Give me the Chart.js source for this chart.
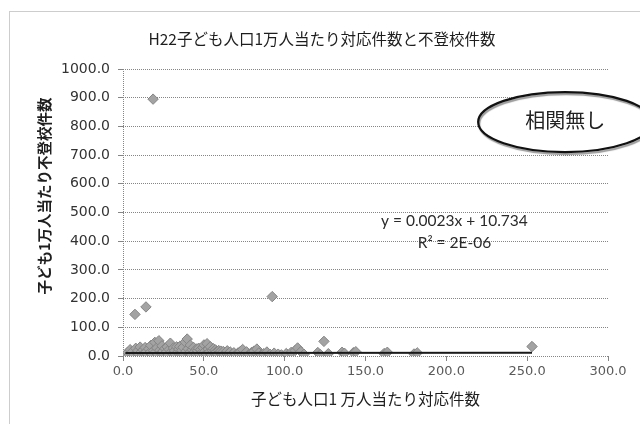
<!DOCTYPE html>
<html>
<head>
<meta charset="utf-8">
<script src="https://cdn.jsdelivr.net/npm/chart.js@4/dist/chart.umd.min.js"></script>
<style>
  html, body { margin: 0; padding: 0; background: #fff; }
  #wrap { width: 640px; height: 424px; }
</style>
</head>
<body>
<div id="wrap"><canvas id="c" width="640" height="424"></canvas></div>
<script>
// Labels
const chartTitle = 'H22子ども人口1万人当たり対応件数と不登校件数';
const xAxisTitle = '子ども人口1 万人当たり対応件数';
const yAxisTitle = '子ども1万人当たり不登校件数';
const noteText = '相関無し';

// Tick labels
const xTickLabels = ['0.0', '50.0', '100.0', '150.0', '200.0', '250.0', '300.0'];
const yTickLabels = ['0.0', '100.0', '200.0', '300.0', '400.0', '500.0', '600.0', '700.0', '800.0', '900.0', '1000.0'];

// 対応件数 (per 10,000 children)
const consultRate = [
  1.5, 2.8, 3.6, 4.4, 5.1, 5.9, 6.7, 7.4, 7.9, 8.6,
  9.3, 9.9, 10.6, 11.2, 11.9, 12.5, 13.1, 13.7, 14.2, 14.6,
  15.3, 15.9, 16.6, 17.2, 17.8, 18.6, 19.0, 19.7, 20.3, 20.9,
  21.5, 22.2, 22.8, 23.5, 24.1, 24.8, 25.4, 26.0, 26.7, 27.3,
  28.0, 28.6, 29.3, 29.9, 30.6, 31.2, 31.9, 32.5, 33.2, 33.8,
  34.5, 35.1, 35.8, 36.4, 37.1, 37.7, 38.4, 39.0, 39.7, 40.3,
  41.0, 41.6, 42.3, 42.9, 43.6, 44.2, 44.9, 45.5, 46.2, 46.8,
  47.5, 48.1, 48.8, 49.4, 50.1, 50.7, 51.4, 52.0, 52.7, 53.3,
  54.0, 54.6, 55.3, 55.9, 56.6, 57.2, 57.9, 58.5, 59.2, 59.8,
  60.5, 61.3, 62.0, 62.8, 63.6, 64.5, 65.4, 66.3, 67.5, 68.6,
  70.0, 71.2, 72.5, 74.0, 75.3, 76.4, 78.0, 79.5, 81.0, 82.8,
  84.0, 85.5, 87.0, 89.0, 91.0, 92.3, 93.5, 96.0, 98.0, 101.0,
  104.0, 106.5, 108.0, 110.0, 112.0, 120.5, 122.0, 124.3, 127.0, 135.5,
  137.0, 142.5, 144.0, 161.5, 163.5, 180.0, 182.0, 253.0
];

// 不登校件数 (per 10,000 children)
const truancyRate = [
  4.2, 12.5, 1.8, 22.0, 8.3, 15.6, 3.1, 145, 26.8, 10.4,
  18.9, 5.6, 31.0, 13.7, 2.4, 21.3, 9.1, 29.5, 171, 16.2,
  4.7, 24.8, 11.9, 36.6, 7.2, 895, 19.4, 47.5, 14.8, 28.1,
  3.9, 53.2, 20.6, 9.8, 35.4, 17.3, 6.1, 26.3, 12.8, 31.7,
  2.9, 22.4, 44.6, 15.1, 8.6, 27.9, 18.2, 4.5, 31.8, 13.4,
  24.1, 33.0, 9.7, 19.8, 30.6, 6.3, 48.7, 16.9, 59.1, 25.5,
  11.2, 37.9, 3.4, 21.7, 29.9, 14.3, 8.0, 24.6, 18.7, 27.1,
  5.2, 22.9, 12.1, 29.3, 38.6, 16.4, 7.5, 42.8, 24.0, 13.0,
  32.2, 4.1, 19.5, 25.4, 10.3, 21.3, 15.7, 6.8, 19.0, 12.6,
  17.0, 8.9, 15.6, 3.7, 12.0, 18.1, 9.4, 14.0, 6.5, 11.3,
  4.8, 10.8, 14.8, 22.6, 9.0, 14.5, 5.5, 12.0, 17.0, 24.2,
  10.6, 3.2, 8.1, 13.9, 5.9, 207, 10.0, 6.4, 4.0, 8.5,
  12.4, 19.0, 28.0, 15.5, 6.0, 12.0, 5.0, 51, 8.0, 13.0,
  9.5, 11.5, 15.0, 8.5, 13.0, 7.0, 11.0, 33.0
];

// Linear trend line as printed on the chart
const trendSlope = 0.0023;
const trendIntercept = 10.734;
const trendR2Label = '2E-06';

const points = consultRate.map((x, i) => ({ x: x, y: truancyRate[i] }));
const xMin = Math.min(...consultRate);
const xMax = Math.max(...consultRate);
const trendPoints = [
  { x: xMin, y: trendSlope * xMin + trendIntercept },
  { x: xMax, y: trendSlope * xMax + trendIntercept }
];

const GRID = '#858585';

const decor = {
  id: 'decor',
  beforeDraw(chart) {
    const ctx = chart.ctx;
    ctx.save();
    ctx.fillStyle = '#ffffff';
    ctx.fillRect(0, 0, chart.width, chart.height);
    // dotted chart frame
    ctx.strokeStyle = '#9a9a9a';
    ctx.lineWidth = 1;
    ctx.setLineDash([1, 1]);
    ctx.strokeRect(9.5, 11.5, 640, 430);
    ctx.restore();
  },
  afterDraw(chart) {
    const ctx = chart.ctx;
    const area = chart.chartArea;
    const xs = chart.scales.x, ys = chart.scales.y;
    ctx.save();
    ctx.fillStyle = '#1e1e1e';
    ctx.textAlign = 'center';
    ctx.textBaseline = 'middle';

    // chart title
    ctx.font = '15.5px "Noto Sans CJK JP"';
    ctx.fillText(chartTitle, 322, 39);

    // x axis title
    ctx.font = '15.5px "Noto Sans CJK JP"';
    ctx.fillText(xAxisTitle, (area.left + area.right) / 2, 399);

    // y axis title
    ctx.save();
    ctx.translate(44, 196);
    ctx.rotate(-Math.PI / 2);
    ctx.font = 'bold 14.5px "Noto Sans CJK JP"';
    ctx.fillText(yAxisTitle, 0, 0);
    ctx.restore();

    // trend equation
    ctx.fillStyle = '#2a2a2a';
    ctx.font = '15.5px Lato';
    const ex = xs.getPixelForValue(205);
    ctx.fillText('y = ' + trendSlope + 'x + ' + trendIntercept, ex, ys.getPixelForValue(470));
    ctx.fillText('R² = ' + trendR2Label, ex, ys.getPixelForValue(393));

    // callout ellipse
    const cx = xs.getPixelForValue(273.5), cy = ys.getPixelForValue(815);
    ctx.beginPath();
    ctx.ellipse(cx, cy, 87, 30, 0, 0, Math.PI * 2);
    ctx.fillStyle = '#ffffff';
    ctx.fill();
    ctx.shadowColor = 'rgba(0,0,0,0.4)';
    ctx.shadowOffsetX = 1;
    ctx.shadowOffsetY = 2;
    ctx.shadowBlur = 1;
    ctx.lineWidth = 2.2;
    ctx.strokeStyle = '#111';
    ctx.stroke();
    ctx.shadowColor = 'transparent';
    ctx.fillStyle = '#222';
    ctx.font = '20px "Noto Sans CJK JP"';
    ctx.fillText(noteText, cx, cy - 2);
    ctx.restore();
  }
};

new Chart(document.getElementById('c'), {
  data: {
    datasets: [
      {
        type: 'line',
        data: trendPoints,
        borderColor: '#1a1a1a',
        borderWidth: 2,
        pointRadius: 0,
        fill: false,
        order: 0
      },
      {
        type: 'scatter',
        data: points,
        pointStyle: 'rectRot',
        pointRadius: 5.2,
        backgroundColor: '#a3a3a3',
        borderColor: '#858585',
        borderWidth: 1,
        order: 1
      }
    ]
  },
  options: {
    responsive: false,
    animation: false,
    devicePixelRatio: 1,
    layout: { padding: { top: 69, right: 32, left: 0, bottom: 0 } },
    plugins: {
      legend: { display: false },
      tooltip: { enabled: false },
      title: { display: false }
    },
    scales: {
      x: {
        type: 'linear',
        min: 0,
        max: 300,
        afterFit(s) { s.height = 68; },
        ticks: {
          stepSize: 50,
          padding: 3,
          color: '#5a5a5a',
          font: { family: 'DejaVu Sans', size: 13 },
          callback: (v, i) => xTickLabels[i]
        },
        grid: {
          color: (c) => (c.tick && c.tick.value === 0 ? GRID : 'rgba(0,0,0,0)'),
          tickColor: GRID,
          tickLength: 5,
          drawTicks: true
        },
        border: { display: false, dash: [1, 1] }
      },
      y: {
        type: 'linear',
        min: 0,
        max: 1000,
        afterFit(s) { s.width = 123; },
        ticks: {
          stepSize: 100,
          padding: 8,
          color: '#333',
          font: { family: 'DejaVu Sans', size: 14 },
          callback: (v, i) => yTickLabels[i]
        },
        grid: {
          color: GRID,
          tickColor: GRID,
          tickLength: 5,
          drawTicks: true
        },
        border: { display: false, dash: [1, 1] }
      }
    }
  },
  plugins: [decor]
});
</script>
</body>
</html>
